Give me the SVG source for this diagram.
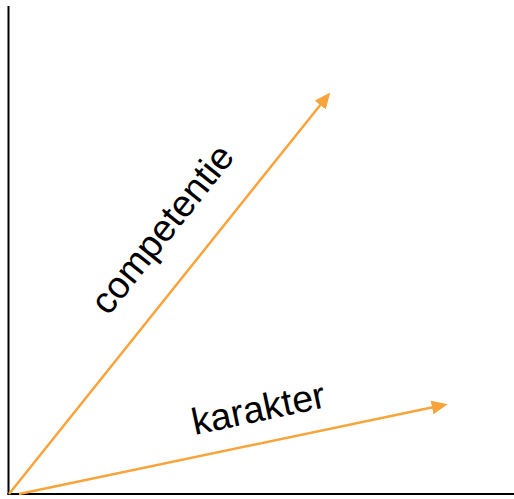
<svg xmlns="http://www.w3.org/2000/svg" width="514" height="499" viewBox="0 0 514 499">
<style>
.axis{stroke:#000;stroke-width:2;fill:none}
.vec{stroke:#F9A43A;stroke-width:2.5;fill:none}
.lbl{font-family:"Liberation Sans",Arial,sans-serif;font-size:37.5px;fill:#000;text-anchor:middle}
</style>
<defs>
<marker id="ah2" viewBox="0 0 16 14" refX="2" refY="7" markerWidth="16" markerHeight="14" orient="auto" markerUnits="userSpaceOnUse">
<path d="M0,0 L16,7 L0,14 Z" fill="#F9A43A"/>
</marker>
</defs>
<g id="axes">
<line class="axis" x1="8.5" y1="6" x2="8.5" y2="495"/>
<line class="axis" x1="7.5" y1="494" x2="514" y2="494"/>
</g>
<g id="connectors">
<line class="vec" x1="9" y1="494" x2="321.5" y2="103.5" marker-end="url(#ah2)"/>
<line class="vec" x1="19" y1="494" x2="434" y2="407" marker-end="url(#ah2)"/>
</g>
<g id="label-competentie">
<text class="lbl" transform="translate(172,237) rotate(-51.4)">competentie</text>
</g>
<g id="label-karakter">
<text class="lbl" transform="translate(261,421) rotate(-12)">karakter</text>
</g>
</svg>
